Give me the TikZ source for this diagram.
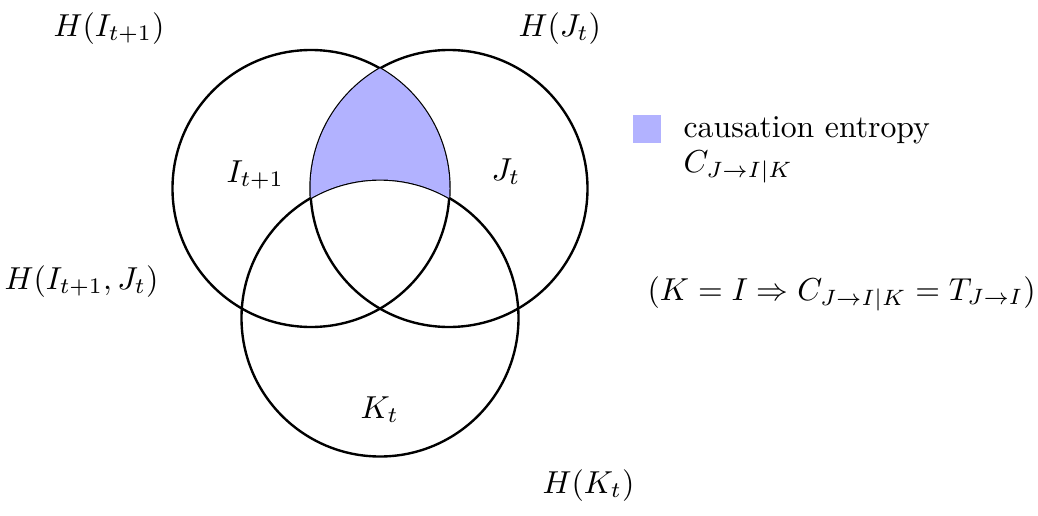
\documentclass[tikz,border=0pt]{standalone}
\usepackage{amsmath}
\begin{document}
\begin{tikzpicture}[x=0.315pt,y=-0.315pt,
  venn/.style={line width=0.75pt},
  lbl/.style={inner sep=0pt,anchor=base west},
  shade/.style={fill=blue!30}]
\useasboundingbox (0,0) rectangle (1038,515);
\coordinate (A) at (311,188.5);
\coordinate (B) at (449,188.5);
\coordinate (C) at (380,318);
\def\R{138.5}
\draw[venn] (A) circle[radius=\R];
\draw[venn] (B) circle[radius=\R];
\draw[venn] (C) circle[radius=\R];
\begin{scope}
  \clip (A) circle[radius=\R];
  \clip (B) circle[radius=\R];
  \fill[shade,even odd rule] (C) circle[radius=\R] (0,0) rectangle (1038,515);
\end{scope}
\node[lbl] (hi) at (53,36) {$H(I_{t+1})$};
\node[lbl] (hj) at (518,36) {$H(J_t)$};
\node[lbl] (hij) at (4,289) {$H(I_{t+1},J_t)$};
\node[lbl] (hk) at (542,493) {$H(K_t)$};
\node[lbl] (i) at (226,182) {$I_{t+1}$};
\node[lbl] (j) at (491,180) {$J_t$};
\node[lbl] (k) at (360,418) {$K_t$};
\node[shade,minimum size=28*0.315pt,inner sep=0pt] (sq) at (647,129) {};
\node[lbl] (ce) at (683,137) {causation entropy};
\node[lbl] (cj) at (683,172) {$C_{J\to I|K}$};
\node[lbl] (eq) at (647,300) {$(K=I\Rightarrow C_{J\to I|K}=T_{J\to I})$};
\end{tikzpicture}
\end{document}
